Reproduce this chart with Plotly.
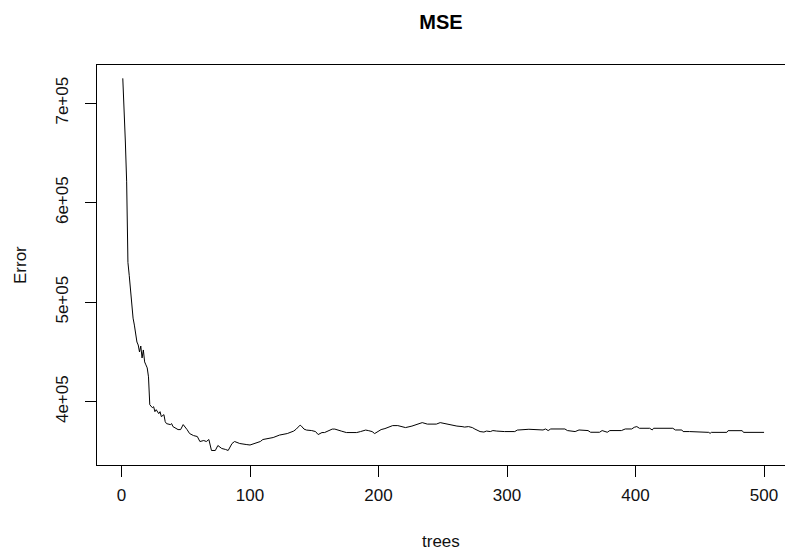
import plotly.graph_objects as go

# Number of trees and corresponding OOB MSE
trees = [1, 2, 3, 4, 5, 6, 7, 8, 9, 10, 11, 12, 13, 14, 15, 16, 17, 18, 19, 20,
         21, 22, 24, 25, 26, 27, 29, 30, 31, 33, 34, 35, 38, 39, 40, 43, 44, 46, 48,
         51, 53, 56, 59, 61, 64, 66, 68, 70, 73, 75, 78, 81, 83, 86, 88, 92, 95, 97,
         100, 103, 105, 108, 110, 113, 116, 118, 123, 129, 134, 136, 139, 140, 142,
         144, 148, 151, 153, 156, 158, 161, 164, 166, 169, 171, 175, 179, 183, 186,
         190, 192, 195, 197, 200, 202, 205, 208, 211, 215, 221, 226, 231, 234, 238,
         241, 245, 248, 250, 253, 257, 261, 265, 267, 270, 273, 275, 279, 282, 284,
         287, 289, 292, 295, 298, 306, 308, 317, 328, 330, 332, 334, 345, 347, 353,
         356, 363, 365, 372, 374, 378, 380, 389, 392, 397, 399, 401, 403, 411, 413,
         414, 429, 431, 436, 437, 442, 457, 458, 459, 471, 472, 483, 484, 500]
mse = [725000, 697000, 661000, 621000, 540000, 527000, 512000, 497000, 484000,
       477000, 467000, 460000, 457000, 450000, 456000, 444000, 452000, 440000,
       437000, 434000, 425000, 397000, 394000, 395000, 390000, 392000, 388000,
       390000, 385000, 387000, 380000, 378000, 377000, 378000, 375000, 373000,
       372000, 372000, 377000, 372000, 368000, 366000, 365000, 360000, 361000,
       360000, 362000, 351000, 351000, 356000, 353000, 352000, 351000, 358000,
       360000, 358000, 357000, 357000, 356500, 358000, 359000, 360000, 362000,
       362500, 363500, 364000, 366500, 368000, 370500, 372500, 376500, 375500,
       372500, 371500, 371000, 370000, 367000, 369000, 369000, 371000, 372500,
       372500, 371000, 370500, 369000, 369000, 369000, 370000, 371500, 371000,
       370000, 368000, 370000, 372000, 373000, 374500, 376000, 376000, 374000,
       375500, 377500, 379000, 377500, 377500, 377500, 379000, 378500, 377500,
       376000, 375500, 375000, 374500, 375000, 374000, 372500, 370000, 369500,
       370500, 370000, 371000, 370500, 370000, 370000, 370000, 371500, 372300,
       371600, 372600, 371000, 372600, 372600, 371000, 370000, 371600, 371000,
       369300, 369300, 371000, 369300, 371000, 371000, 372600, 372600, 374300,
       375000, 373300, 373300, 371600, 373300, 373300, 371600, 371600, 370000,
       370000, 369200, 368200, 369200, 369200, 370900, 370900, 369200, 369200]

x_ticks = [0, 100, 200, 300, 400, 500]
y_ticks = [400000, 500000, 600000, 700000]
y_tick_labels = ["4e+05", "5e+05", "6e+05", "7e+05"]

FONT = "Liberation Sans, Arial, sans-serif"
W, H = 785, 552
ML, MR, MT, MB = 97, 0, 65, 87
PW, PH = W - ML - MR, H - MT - MB

fig = go.Figure()
fig.add_trace(go.Scatter(
    x=trees, y=mse, mode="lines",
    line=dict(color="black", width=1),
    showlegend=False, hoverinfo="x+y",
))

fig.update_layout(
    width=W, height=H,
    margin=dict(l=ML, r=MR, t=MT, b=MB, autoexpand=False),
    paper_bgcolor="white", plot_bgcolor="white",
    font=dict(family=FONT, size=17, color="#111"),
    title=dict(text="<b>MSE</b>", x=0.5, xref="paper", xanchor="center",
               y=1 - 22 / H, yref="container", yanchor="middle",
               font=dict(family=FONT, size=20, color="#000")),
    annotations=[
        dict(text="trees", xref="paper", yref="paper", x=0.5,
             y=-(541 - (H - MB)) / PH, xanchor="center", yanchor="middle",
             showarrow=False, font=dict(family=FONT, size=17, color="#111")),
        dict(text="Error", xref="paper", yref="paper", x=(20 - ML) / PW,
             y=0.5, xanchor="center", yanchor="middle", textangle=-90,
             showarrow=False, font=dict(family=FONT, size=17, color="#111")),
    ],
)

fig.update_xaxes(
    range=[-19.07, 516.3], tickvals=x_ticks, ticks="outside", ticklen=11,
    tickcolor="black", tickwidth=1, showline=True, linecolor="black",
    linewidth=1, mirror=True, showgrid=False, zeroline=False,
    ticklabelstandoff=4, automargin=False,
)
fig.update_yaxes(
    range=[336400, 738400], tickvals=y_ticks, ticktext=y_tick_labels,
    tickangle=-90, ticks="outside", ticklen=11, tickcolor="black",
    tickwidth=1, showline=True, linecolor="black", linewidth=1,
    mirror=False, showgrid=False, zeroline=False,
    ticklabelstandoff=10, automargin=False,
)

fig.write_html(
    "out.html",
    config={"displayModeBar": False},
    post_script="document.body.style.margin='0';document.body.style.overflow='hidden';",
)
